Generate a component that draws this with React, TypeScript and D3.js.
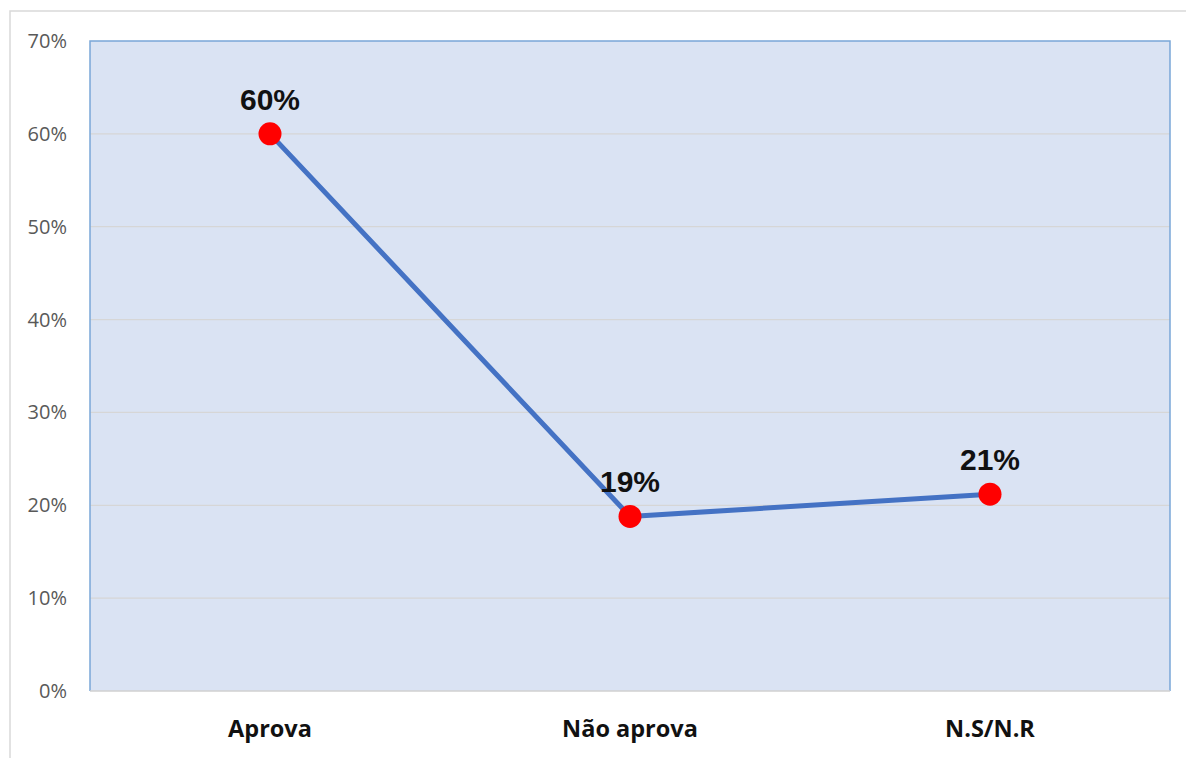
import React from "react";
import * as d3 from "d3";

const categories = ["Aprova", "Não aprova", "N.S/N.R"];
const values = [0.6, 0.188, 0.212];
const valueLabels = ["60%", "19%", "21%"];
const yTicks = [0, 0.1, 0.2, 0.3, 0.4, 0.5, 0.6, 0.7];

const W = 1186;
const H = 758;
const plot = { left: 90, top: 41, right: 1170, bottom: 691 };

export default function App() {
  const x = d3
    .scaleBand<string>()
    .domain(categories)
    .range([plot.left, plot.right]);
  const y = d3.scaleLinear().domain([0, 0.7]).range([plot.bottom, plot.top]);
  const cx = (c: string) => (x(c) as number) + x.bandwidth() / 2;
  const line = d3
    .line<number>()
    .x((_, i) => cx(categories[i]))
    .y((d) => y(d));
  const fmt = d3.format(".0%");

  return (
    <svg
      width={W}
      height={H}
      style={{ position: "absolute", left: 0, top: 0, background: "#fff" }}
    >
      <rect x={10} y={11} width={W + 20} height={H + 20} fill="#fff" stroke="#d9d9d9" strokeWidth={1.5} />
      <rect
        x={plot.left}
        y={plot.top}
        width={plot.right - plot.left}
        height={plot.bottom - plot.top}
        fill="#dae3f3"
      />
      {yTicks.slice(1, -1).map((t) => (
        <line key={t} x1={plot.left} x2={plot.right} y1={y(t)} y2={y(t)} stroke="#d6d6d6" strokeWidth={1.3} />
      ))}
      <path
        d={`M${plot.left},${plot.bottom} V${plot.top} H${plot.right} V${plot.bottom}`}
        fill="none"
        stroke="#7aa7d8"
        strokeWidth={1.5}
      />
      <line x1={plot.left} x2={plot.right} y1={plot.bottom} y2={plot.bottom} stroke="#d0d0d0" strokeWidth={1.5} />
      {yTicks.map((t) => (
        <text
          key={t}
          x={67}
          y={y(t)}
          dy="0.35em"
          textAnchor="end"
          fontFamily="'Open Sans', sans-serif"
          fontSize={20}
          fill="#595959"
        >
          {fmt(t)}
        </text>
      ))}
      {categories.map((c) => (
        <text
          key={c}
          x={cx(c)}
          y={737}
          textAnchor="middle"
          fontFamily="'Open Sans', sans-serif"
          fontWeight="bold"
          fontSize={23.5}
          fill="#111"
        >
          {c}
        </text>
      ))}
      <path d={line(values) as string} fill="none" stroke="#4472c4" strokeWidth={5} strokeLinejoin="round" />
      {values.map((v, i) => (
        <circle key={i} cx={cx(categories[i])} cy={y(v)} r={11.5} fill="#ff0000" />
      ))}
      {values.map((v, i) => (
        <text
          key={i}
          x={cx(categories[i])}
          y={y(v) - 24}
          textAnchor="middle"
          fontFamily="'Liberation Sans', Arial, sans-serif"
          fontWeight="bold"
          fontSize={30}
          fill="#111"
        >
          {valueLabels[i]}
        </text>
      ))}
    </svg>
  );
}
